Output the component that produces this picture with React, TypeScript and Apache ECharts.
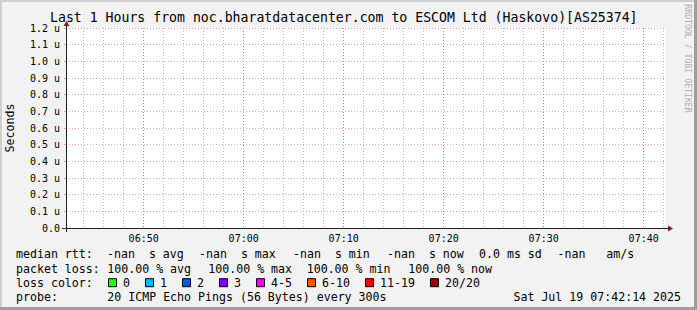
import { useEffect, useRef } from 'react';
import * as echarts from 'echarts';

// ---------- data ----------
const chartTitle = 'Last 1 Hours from noc.bharatdatacenter.com to ESCOM Ltd (Haskovo)[AS25374]';
const yAxisTitle = 'Seconds';
const watermark = 'RRDTOOL / TOBI OETIKER';

// x axis: minutes since midnight (06:42:14 .. 07:42:14)
const startMinute = 6 * 60 + 42 + 14 / 60;
const endMinute = 7 * 60 + 42 + 14 / 60;
// y axis in micro-seconds ("u")
const yMin = 0;
const yMax = 1.2;
const yStep = 0.1;

// median RTT samples: every probe returned -nan (100 % loss)
const medianRtt: [number, number | null][] = [];

const rttRow = ['median rtt:', '-nan  s avg', '-nan  s max', '-nan  s min', '-nan  s now', '0.0 ms sd', '-nan   am/s'];
const lossRow = ['packet loss:', '100.00 % avg', '100.00 % max', '100.00 % min', '100.00 % now'];
const lossColorTitle = 'loss color:';
const lossLabels = ['0', '1', '2', '3', '4-5', '6-10', '11-19', '20/20'];
const lossColors = ['#26ff00', '#00b8ff', '#0059ff', '#7e00ff', '#ff00ff', '#ff5500', '#ff0000', '#a00000'];
const probeRow = ['probe:', '20 ICMP Echo Pings (56 Bytes) every 300s'];
const stamp = 'Sat Jul 19 07:42:14 2025';

// ---------- layout ----------
const W = 697;
const H = 310;
const G = { left: 66, top: 28, width: 600, height: 200 };
const MONO = '"DejaVu Sans Mono", monospace';
const LEG_FS = 11.6;
const CW = 7.0; // char advance of legend font
const rowY = [254.4, 268.6, 282.7, 296.6];
const rttX = [16, 107, 199, 293, 387, 479, 557.5];
const lossX = [16, 107.3, 208.3, 306.7, 408.3];
const valueX = 107.3;
const MINOR = 'rgba(150,150,150,0.6)';
const MAJOR = 'rgba(222,79,79,0.5)';

const fmtTime = (m: number) => {
  const r = Math.round(m);
  if (Math.abs(m - r) > 1e-6 || r % 10 !== 0) return '';
  const h = Math.floor(r / 60);
  const mm = r % 60;
  return String(h).padStart(2, '0') + ':' + String(mm).padStart(2, '0');
};

function txt(text: string, x: number, y: number, extra: any = {}) {
  return {
    type: 'text',
    x,
    y,
    silent: true,
    style: {
      text,
      fontFamily: MONO,
      fontSize: LEG_FS,
      fill: '#000',
      align: 'left',
      verticalAlign: 'middle',
      textAlign: 'left',
      textVerticalAlign: 'middle',
      ...extra,
    },
  };
}

export default function App() {
  const ref = useRef<HTMLDivElement>(null);
  useEffect(() => {
    document.body.style.margin = '0';
    if (!ref.current) return;
    const chart = echarts.init(ref.current, undefined, { renderer: 'svg' });

    const graphic: any[] = [];
    // 3D shade frame
    graphic.push({ type: 'rect', shape: { x: 0, y: 0, width: W, height: 2 }, style: { fill: '#cfcfcf' }, silent: true });
    graphic.push({ type: 'rect', shape: { x: 0, y: 0, width: 2, height: H }, style: { fill: '#cfcfcf' }, silent: true });
    graphic.push({ type: 'rect', shape: { x: W - 3, y: 0, width: 3, height: H }, style: { fill: '#9e9e9e' }, silent: true });
    graphic.push({ type: 'rect', shape: { x: 0, y: H - 3, width: W, height: 3 }, style: { fill: '#9e9e9e' }, silent: true });

    const x0 = G.left, x1 = G.left + G.width, yb = G.top + G.height, yt = G.top;
    // axis extensions
    graphic.push({ type: 'line', shape: { x1: x0 - 4, y1: yb + 0.5, x2: x0, y2: yb + 0.5 }, style: { stroke: '#1f1f1f', lineWidth: 1 }, silent: true });
    graphic.push({ type: 'line', shape: { x1: x1, y1: yb + 0.5, x2: x1 + 3, y2: yb + 0.5 }, style: { stroke: '#1f1f1f', lineWidth: 1 }, silent: true });
    graphic.push({ type: 'line', shape: { x1: x0 + 0.5, y1: yb, x2: x0 + 0.5, y2: yb + 4 }, style: { stroke: '#1f1f1f', lineWidth: 1 }, silent: true });
    graphic.push({ type: 'line', shape: { x1: x0 + 0.5, y1: yt - 3, x2: x0 + 0.5, y2: yt }, style: { stroke: '#1f1f1f', lineWidth: 1 }, silent: true });
    // arrows
    graphic.push({ type: 'polygon', shape: { points: [[x1 + 2, yb - 2.5], [x1 + 2, yb + 3.5], [x1 + 7, yb + 0.5]] }, style: { fill: '#801f1f' }, silent: true });
    graphic.push({ type: 'polygon', shape: { points: [[x0 - 2.5, yt - 2], [x0 + 3.5, yt - 2], [x0 + 0.5, yt - 7]] }, style: { fill: '#801f1f' }, silent: true });

    // watermark
    graphic.push({
      type: 'text', x: 688, y: 58.5, rotation: -Math.PI / 2, silent: true,
      style: { text: watermark, fontFamily: MONO, fontSize: 8.2, fill: '#b0b0b0', align: 'center', verticalAlign: 'middle', textAlign: 'center', textVerticalAlign: 'middle' },
    });

    // legend rows
    rttRow.forEach((s, i) => graphic.push(txt(s, rttX[i], rowY[0])));
    lossRow.forEach((s, i) => graphic.push(txt(s, lossX[i], rowY[1])));
    graphic.push(txt(lossColorTitle, 16, rowY[2]));
    let bx = 108;
    lossLabels.forEach((lab, i) => {
      graphic.push({ type: 'rect', shape: { x: bx + 0.5, y: rowY[2] - 4, width: 8, height: 8 }, style: { fill: lossColors[i], stroke: '#000', lineWidth: 1 }, silent: true });
      graphic.push(txt(lab, bx + 15, rowY[2]));
      bx = bx + 15 + lab.length * CW + 15;
    });
    graphic.push(txt(probeRow[0], 16, rowY[3]));
    graphic.push(txt(probeRow[1], valueX, rowY[3]));
    graphic.push(txt(stamp, 681, rowY[3], { align: 'right', textAlign: 'right' }));

    const option: any = {
      animation: false,
      backgroundColor: '#f2f2f2',
      title: {
        text: chartTitle,
        left: 50,
        top: 11,
        padding: 0,
        textStyle: { fontFamily: MONO, fontSize: 13.2, fontWeight: 'normal', color: '#000' },
      },
      grid: { left: G.left, top: G.top, width: G.width, height: G.height, show: true, backgroundColor: '#ffffff', borderWidth: 0, containLabel: false, outerBoundsMode: 'none' },
      xAxis: [
        {
          // minor grid: every 2 minutes
          type: 'value', position: 'bottom', min: startMinute, max: endMinute, splitNumber: 30, z: 0,
          axisLine: { show: false }, axisTick: { show: false }, axisLabel: { show: false },
          splitLine: { show: true, showMinLine: false, showMaxLine: false, lineStyle: { color: MINOR, width: 1, type: [1, 2] } },
        },
        {
          // major grid + labels: every 10 minutes
          type: 'value', position: 'bottom', min: startMinute, max: endMinute, splitNumber: 6, z: 1,
          axisLine: { show: true, lineStyle: { color: '#1f1f1f', width: 1 } },
          axisTick: { show: false },
          axisLabel: { show: true, showMinLabel: false, showMaxLabel: false, formatter: (v: number) => fmtTime(v), margin: 5, fontFamily: MONO, fontSize: 10, color: '#000' },
          splitLine: { show: true, showMinLine: false, showMaxLine: false, lineStyle: { color: MAJOR, width: 1, type: [1, 2] } },
        },
      ],
      yAxis: {
        type: 'value', min: yMin, max: yMax, interval: yStep,
        name: yAxisTitle, nameLocation: 'middle', nameGap: 50,
        nameTextStyle: { fontFamily: MONO, fontSize: LEG_FS, color: '#000' },
        axisLine: { show: true, lineStyle: { color: '#1f1f1f', width: 1 } },
        axisTick: { show: true, length: 2, lineStyle: { color: MAJOR } },
        axisLabel: { margin: 6, fontFamily: MONO, fontSize: 10, color: '#000', formatter: (v: number) => (Math.abs(v) < 1e-9 ? '0.0' : v.toFixed(1) + ' u') },
        splitLine: { show: true, lineStyle: { color: MAJOR, width: 1, type: [1, 2] } },
      },
      series: [
        { type: 'line', name: 'median rtt', xAxisIndex: 1, yAxisIndex: 0, data: medianRtt, showSymbol: false, lineStyle: { color: '#202020' } },
      ],
      graphic: { elements: graphic },
    };
    chart.setOption(option);
    return () => chart.dispose();
  }, []);
  return <div ref={ref} style={{ width: W, height: H }} />;
}
